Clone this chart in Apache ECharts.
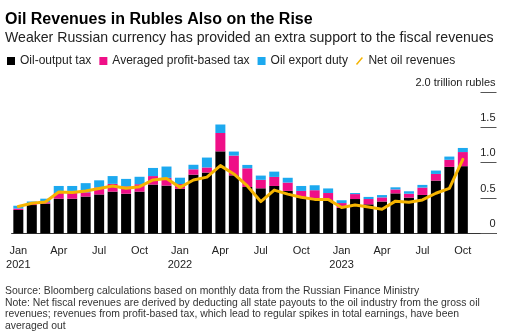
<!DOCTYPE html>
<html>
<head>
<meta charset="utf-8">
<script src="https://cdn.jsdelivr.net/npm/echarts@6/dist/echarts.min.js"></script>
<style>
html,body{margin:0;padding:0;background:#fff;}
#c{width:506px;height:334px;}
</style>
</head>
<body>
<div id="c"></div>
<script>
var months = ['Jan','Feb','Mar','Apr','May','Jun','Jul','Aug','Sep','Oct','Nov','Dec'];
var years = ['2021','2022','2023'];
var categories = [];
years.forEach(function(y){ months.forEach(function(m){ categories.push(m + ' ' + y); }); });

var oilOutputTax = [
  0.33, 0.40, 0.42, 0.49, 0.49, 0.52, 0.55, 0.59, 0.56, 0.59, 0.69, 0.675,
  0.63, 0.83, 0.86, 1.16, 0.82, 0.655, 0.637, 0.67, 0.60, 0.51, 0.49, 0.47,
  0.36, 0.485, 0.41, 0.45, 0.565, 0.505, 0.543, 0.746, 0.94, 0.95, null, null
];
var profitBasedTax = [
  0.02, 0.02, 0.02, 0.08, 0.11, 0.06, 0.10, 0.11, 0.105, 0.105, 0.12, 0.11,
  0.067, 0.076, 0.072, 0.26, 0.28, 0.265, 0.12, 0.128, 0.118, 0.09, 0.12, 0.10,
  0.068, 0.07, 0.075, 0.058, 0.056, 0.055, 0.104, 0.094, 0.10, 0.20, null, null
];
var exportDuty = [
  0.04, 0.03, 0.05, 0.10, 0.07, 0.13, 0.10, 0.11, 0.105, 0.105, 0.115, 0.16,
  0.09, 0.064, 0.14, 0.12, 0.057, 0.048, 0.06, 0.075, 0.068, 0.07, 0.07, 0.065,
  0.04, 0.015, 0.03, 0.033, 0.03, 0.035, 0.038, 0.048, 0.046, 0.058, null, null
];
var netOilRevenues = [
  0.38, 0.425, 0.444, 0.585, 0.576, 0.60, 0.633, 0.67, 0.637, 0.66, 0.755, 0.775,
  0.65, 0.755, 0.795, 0.958, 0.84, 0.67, 0.449, 0.612, 0.555, 0.51, 0.48, 0.48,
  0.366, 0.40, 0.373, 0.34, 0.455, 0.44, 0.472, 0.567, 0.637, 1.048, null, null
];
var yTickLabels = {'0':'0','0.5':'0.5','1':'1.0','1.5':'1.5','2':'2.0 trillion rubles'};

var chart = echarts.init(document.getElementById('c'), null, {renderer:'canvas'});
var FONT = 'Liberation Sans, Arial, sans-serif';
var tickShown = function(idx){ return idx % 3 === 0 && idx <= 33; };

chart.setOption({
  animation: false,
  backgroundColor: '#fff',
  textStyle: {fontFamily: FONT},
  grid: {left: 11.6, right: 9.5, top: 92, bottom: 100.7, outerBoundsMode: 'none'},
  legend: {
    left: 7, top: 55, padding: 0, itemWidth: 8, itemHeight: 8, itemGap: 8,
    textStyle: {fontSize: 12, color: '#222', fontFamily: FONT},
    data: [
      {name: 'Oil-output tax', icon: 'rect'},
      {name: 'Averaged profit-based tax', icon: 'rect'},
      {name: 'Oil export duty', icon: 'rect'},
      {name: 'Net oil revenues', icon: 'path://M0,10L8.4,0L10,1.4L1.6,11.4Z'}
    ]
  },
  xAxis: {
    type: 'category',
    data: categories,
    boundaryGap: true,
    axisLine: {lineStyle: {color: '#333', width: 1}},
    axisTick: {alignWithLabel: true, length: 4, interval: tickShown, lineStyle: {color: '#333'}},
    axisLabel: {
      interval: tickShown, margin: 11, fontSize: 11, lineHeight: 13.5, color: '#222',
      formatter: function(v){ var p = v.split(' '); return p[0] === 'Jan' ? p[0] + '\n' + p[1] : p[0]; }
    },
    splitLine: {show: false}
  },
  yAxis: {
    type: 'value', position: 'right', min: 0, max: 2, interval: 0.5,
    axisLine: {show: false},
    splitLine: {show: false},
    axisTick: {show: true, inside: true, length: 16, lineStyle: {color: '#555'}},
    axisLabel: {
      inside: true, margin: 1, fontSize: 11, color: '#222', align: 'right',
      verticalAlign: 'bottom', padding: [0, 0, 4, 0],
      formatter: function(v){ return yTickLabels[String(v)]; }
    }
  },
  series: [
    {name: 'Oil-output tax', type: 'bar', stack: 'a', barWidth: 10, data: oilOutputTax, itemStyle: {color: '#000'}},
    {name: 'Averaged profit-based tax', type: 'bar', stack: 'a', barWidth: 10, data: profitBasedTax, itemStyle: {color: '#ef0f87'}},
    {name: 'Oil export duty', type: 'bar', stack: 'a', barWidth: 10, data: exportDuty, itemStyle: {color: '#1ca9ef'}},
    {name: 'Net oil revenues', type: 'line', data: netOilRevenues, symbol: 'none', z: 5,
     itemStyle: {color: '#f5b400'}, lineStyle: {color: '#f5b400', width: 3, join: 'round', cap: 'round'}}
  ],
  graphic: [
    {type: 'text', left: 5, top: 12, style: {text: 'Oil Revenues in Rubles Also on the Rise', font: 'bold 16px ' + FONT, fill: '#000'}},
    {type: 'text', left: 5, top: 31, style: {text: 'Weaker Russian currency has provided an extra support to the fiscal revenues', font: '14.1px ' + FONT, fill: '#222'}},
    {type: 'text', left: 5, top: 286, style: {text: 'Source: Bloomberg calculations based on monthly data from the Russian Finance Ministry', font: '10.4px ' + FONT, fill: '#333'}},
    {type: 'text', left: 5, top: 297.7, style: {text: 'Note: Net fiscal revenues are derived by deducting all state payouts to the oil industry from the gross oil', font: '10.4px ' + FONT, fill: '#333'}},
    {type: 'text', left: 5, top: 309.4, style: {text: 'revenues; revenues from profit-based tax, which lead to regular spikes in total earnings, have been', font: '10.4px ' + FONT, fill: '#333'}},
    {type: 'text', left: 5, top: 321.1, style: {text: 'averaged out', font: '10.4px ' + FONT, fill: '#333'}}
  ]
});
</script>
</body>
</html>
